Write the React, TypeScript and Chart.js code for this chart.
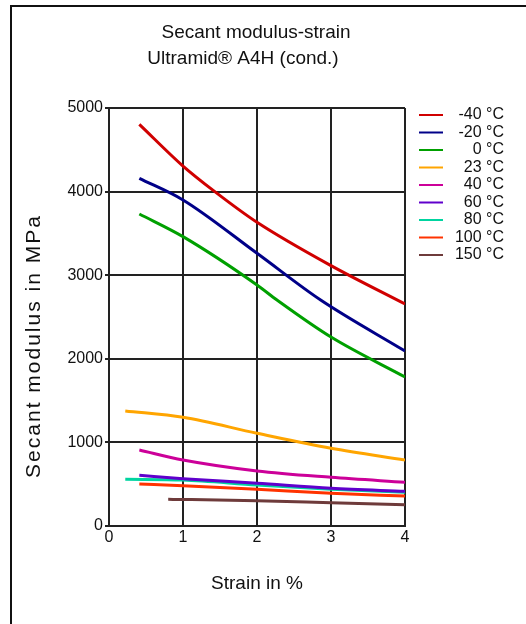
import React, { useEffect, useRef } from 'react';
import { Chart, registerables } from 'chart.js';

Chart.register(...registerables);

const titleLines = ['Secant modulus-strain', 'Ultramid® A4H (cond.)'];
const xAxisTitle = 'Strain in %';
const yAxisTitle = 'Secant modulus in MPa';

const seriesLabels = ['-40 °C', '-20 °C', '0 °C', '23 °C', '40 °C', '60 °C', '80 °C', '100 °C', '150 °C'];
const seriesColors = ['#d00000', '#000088', '#00a000', '#ffa500', '#cc0099', '#6000cc', '#00d4a0', '#ff3300', '#6e3b3b'];

const strainM40 = [0.41, 1, 1.43, 2, 3, 4];
const modulusM40 = [4805, 4306, 4000, 3633, 3114, 2655];
const strainM20 = [0.41, 1, 2, 2.86, 4];
const modulusM20 = [4159, 3900, 3262, 2703, 2093];
const strain0 = [0.41, 1, 2, 2.27, 3, 4];
const modulus0 = [3732, 3461, 2883, 2703, 2260, 1782];
const strain23 = [0.22, 1, 2, 3, 4];
const modulus23 = [1376, 1300, 1109, 929, 789];
const strain40 = [0.41, 1, 2, 3, 4];
const modulus40 = [909, 789, 658, 582, 523];
const strain60 = [0.41, 1, 2, 3, 4];
const modulus60 = [606, 566, 511, 451, 415];
const strain80 = [0.22, 1, 2, 3, 4];
const modulus80 = [559, 550, 490, 440, 405];
const strain100 = [0.41, 1, 2, 3, 4];
const modulus100 = [502, 482, 439, 391, 359];
const strain150 = [0.8, 1, 2, 3, 4];
const modulus150 = [319, 317, 303, 279, 255];

const strainSets = [strainM40, strainM20, strain0, strain23, strain40, strain60, strain80, strain100, strain150];
const modulusSets = [modulusM40, modulusM20, modulus0, modulus23, modulus40, modulus60, modulus80, modulus100, modulus150];

const xTicks = [0, 1, 2, 3, 4];
const yTicks = [0, 1000, 2000, 3000, 4000, 5000];

const FONT = "'Liberation Sans', Arial, sans-serif";

const overlayPlugin = {
  id: 'overlay',
  afterDraw(chart: any) {
    const ctx = chart.ctx;
    ctx.save();
    ctx.fillStyle = '#111';
    ctx.font = `19px ${FONT}`;
    ctx.textAlign = 'center';
    ctx.textBaseline = 'middle';
    ctx.fillText(titleLines[0], 256, 33);
    ctx.fillText(titleLines[1], 243, 59);
    // y axis title
    ctx.save();
    ctx.font = `21px ${FONT}`;
    ctx.translate(34, 346);
    ctx.rotate(-Math.PI / 2);
    (ctx as any).letterSpacing = '2px';
    ctx.fillText(yAxisTitle, 0, 0);
    ctx.restore();
    // legend
    ctx.font = `16px ${FONT}`;
    seriesLabels.forEach((lab, i) => {
      const y = 115 + i * 17.5;
      ctx.strokeStyle = seriesColors[i];
      ctx.lineWidth = 2;
      ctx.beginPath();
      ctx.moveTo(419, y);
      ctx.lineTo(443, y);
      ctx.stroke();
      ctx.textAlign = 'right';
      ctx.fillStyle = '#111';
      ctx.fillText(lab, 504, y);
    });
    ctx.restore();
  },
};

export default function App() {
  const ref = useRef<HTMLCanvasElement>(null);
  useEffect(() => {
    if (!ref.current) return;
    const datasets = seriesLabels.map((lab, i) => ({
      label: lab,
      data: strainSets[i].map((x, j) => ({ x, y: modulusSets[i][j] })),
      borderColor: seriesColors[i],
      backgroundColor: seriesColors[i],
      borderWidth: 3,
      pointRadius: 0,
      cubicInterpolationMode: 'monotone' as const,
      fill: false,
    }));
    const chart = new Chart(ref.current, {
      type: 'line',
      data: { datasets },
      options: {
        animation: false,
        responsive: false,
        maintainAspectRatio: false,
        layout: { padding: { left: 0, top: 108, right: 121, bottom: 0 } },
        plugins: { legend: { display: false }, tooltip: { enabled: false }, title: { display: false } },
        scales: {
          x: {
            type: 'linear',
            min: 0,
            max: 4,
            afterBuildTicks: (s: any) => { s.ticks = xTicks.map((v) => ({ value: v })); },
            afterFit: (s: any) => { s.height = 98; },
            ticks: { color: '#111', font: { family: FONT, size: 16 }, padding: 2, maxRotation: 0, callback: (v: any) => String(v) },
            grid: { color: '#222', lineWidth: 2, drawTicks: false },
            border: { color: '#222', width: 2 },
            title: { display: true, text: xAxisTitle, color: '#111', font: { family: FONT, size: 19 }, padding: 29 },
          },
          y: {
            type: 'linear',
            min: 0,
            max: 5000,
            afterBuildTicks: (s: any) => { s.ticks = yTicks.map((v) => ({ value: v })); },
            afterFit: (s: any) => { s.width = 109; },
            ticks: { color: '#111', font: { family: FONT, size: 16 }, padding: 2, callback: (v: any) => String(v) },
            grid: { color: '#222', lineWidth: 2, tickLength: 4 },
            border: { color: '#222', width: 2 },
            title: { display: false, text: yAxisTitle },
          },
        },
      },
      plugins: [overlayPlugin],
    });
    return () => chart.destroy();
  }, []);
  return (
    <div style={{ position: 'fixed', left: 0, top: 0, width: 526, height: 624, overflow: 'hidden', background: '#fff' }}>
      <div style={{ position: 'absolute', left: 10, top: 5, width: 700, height: 800, borderTop: '2px solid #111', borderLeft: '2px solid #111' }} />
      <canvas ref={ref} width={526} height={624} style={{ position: 'absolute', left: 0, top: 0, width: 526, height: 624 }} />
    </div>
  );
}
